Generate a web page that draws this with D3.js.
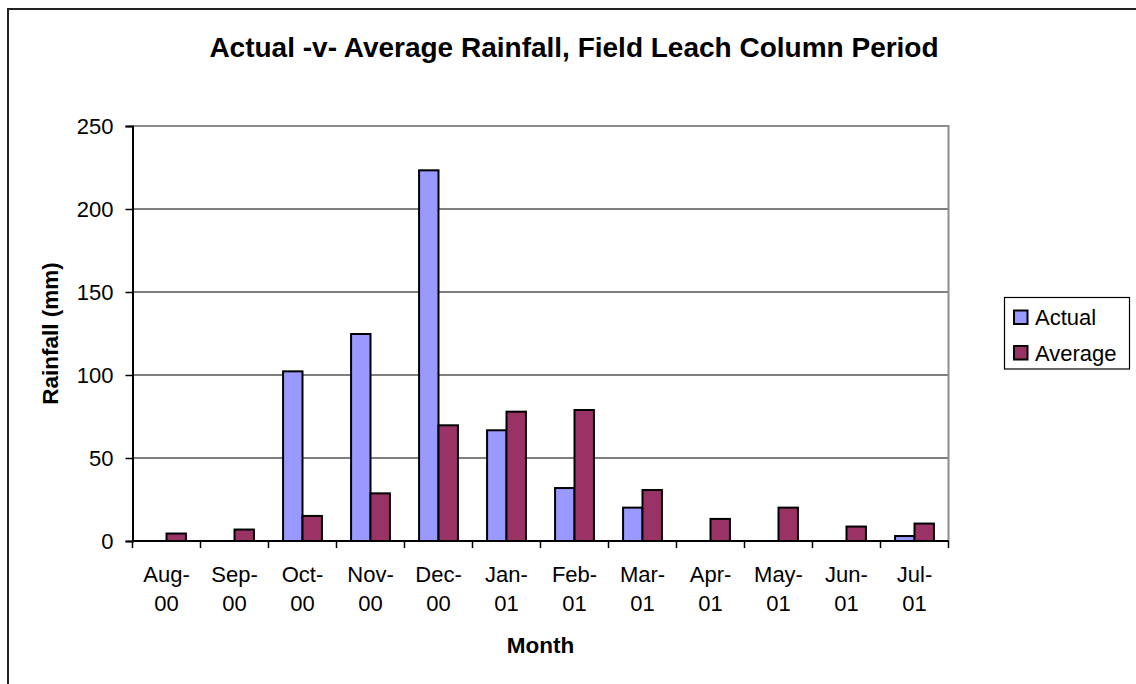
<!DOCTYPE html>
<html>
<head>
<meta charset="utf-8">
<script src="https://cdn.jsdelivr.net/npm/d3@7"></script>
<style>
  body { margin: 0; background: #fff; }
  text { font-family: "Liberation Sans", Arial, sans-serif; }
</style>
</head>
<body>
<div id="canvas"></div>
<script>
// chart values
var months = ["Aug-00", "Sep-00", "Oct-00", "Nov-00", "Dec-00", "Jan-01",
              "Feb-01", "Mar-01", "Apr-01", "May-01", "Jun-01", "Jul-01"];
var actual  = [0, 0, 102.2, 124.7, 223.3, 66.7, 31.9, 20.1, 0, 0, 0, 3.0];
var average = [4.5, 6.9, 15.1, 28.7, 69.7, 77.9, 78.9, 30.7, 13.3, 20.1, 8.7, 10.5];
var seriesNames = ["Actual", "Average"];
var yTicks = [0, 50, 100, 150, 200, 250];

var colors = {Actual: "#9999ff", Average: "#993366"};

var W = 1136, H = 684;
var plot = {left: 132.5, top: 126, right: 948.5, bottom: 541};

svg = d3.select("#canvas").append("svg")
  .attr("width", W).attr("height", H);

// outer chart border (runs off right / bottom edge)
svg.append("rect")
  .attr("x", 8).attr("y", 9)
  .attr("width", 1200).attr("height", 800)
  .attr("fill", "none").attr("stroke", "#222").attr("stroke-width", 2);

var x = d3.scaleBand().domain(months).range([plot.left, plot.right]);
var inner = d3.scaleBand().domain(seriesNames)
  .range([0, x.bandwidth()]).paddingInner(0).paddingOuter(0.75);
var y = d3.scaleLinear().domain([0, 250]).range([plot.bottom, plot.top]);

// gridlines
svg.append("g").selectAll("line").data(yTicks.slice(1, -1)).enter().append("line")
  .attr("x1", plot.left).attr("x2", plot.right)
  .attr("y1", function(d){ return y(d); }).attr("y2", function(d){ return y(d); })
  .attr("stroke", "#555").attr("stroke-width", 1.5);

// plot frame top/right
svg.append("path")
  .attr("d", "M" + plot.left + "," + plot.top + "H" + plot.right + "V" + plot.bottom)
  .attr("fill", "none").attr("stroke", "#8c8c8c").attr("stroke-width", 2);

// bars
var rows = months.map(function(m, i){
  return [{m: m, s: "Actual", v: actual[i]}, {m: m, s: "Average", v: average[i]}];
});
var grp = svg.append("g").selectAll("g").data(rows).enter().append("g")
  .attr("transform", function(d){ return "translate(" + x(d[0].m) + ",0)"; });
grp.selectAll("rect").data(function(d){ return d.filter(function(e){ return e.v > 0; }); })
  .enter().append("rect")
  .attr("x", function(d){ return inner(d.s); })
  .attr("width", inner.bandwidth())
  .attr("y", function(d){ return y(d.v); })
  .attr("height", function(d){ return y(0) - y(d.v); })
  .attr("fill", function(d){ return colors[d.s]; })
  .attr("stroke", "#000").attr("stroke-width", 2);

// y axis
var yAxis = d3.axisLeft(y).tickValues(yTicks).tickSize(7).tickPadding(12);
var ya = svg.append("g").attr("transform", "translate(" + plot.left + ",0)").call(yAxis);
ya.select(".domain").attr("stroke", "#000").attr("stroke-width", 2);
ya.selectAll(".tick line").attr("stroke", "#000").attr("stroke-width", 1.5);
ya.selectAll(".tick text").attr("font-size", 22).attr("fill", "#000")
  .attr("font-family", "Liberation Sans, Arial, sans-serif");

// x axis
var tickPos = months.map(function(m){ return x(m); }).concat([plot.right]);
var xa = svg.append("g");
xa.append("line").attr("x1", plot.left).attr("x2", plot.right)
  .attr("y1", plot.bottom).attr("y2", plot.bottom)
  .attr("stroke", "#000").attr("stroke-width", 2);
xa.selectAll("line.tk").data(tickPos).enter().append("line").attr("class", "tk")
  .attr("x1", function(d){ return d; }).attr("x2", function(d){ return d; })
  .attr("y1", plot.bottom).attr("y2", plot.bottom + 7)
  .attr("stroke", "#000").attr("stroke-width", 1.5);
var lab = xa.selectAll("text").data(months).enter().append("text")
  .attr("text-anchor", "middle").attr("font-size", 22).attr("fill", "#000")
  .attr("transform", function(d){ return "translate(" + (x(d) + x.bandwidth() / 2) + ",0)"; });
lab.append("tspan").attr("x", 0).attr("y", 582)
  .text(function(d){ return d.split("-")[0] + "-"; });
lab.append("tspan").attr("x", 0).attr("y", 611)
  .text(function(d){ return d.split("-")[1]; });

// titles
svg.append("text").attr("x", 574).attr("y", 57).attr("text-anchor", "middle")
  .attr("font-size", 28).attr("font-weight", "bold")
  .text("Actual -v- Average Rainfall, Field Leach Column Period");
svg.append("text").attr("x", 540.5).attr("y", 653).attr("text-anchor", "middle")
  .attr("font-size", 22.5).attr("font-weight", "bold").text("Month");
svg.append("text")
  .attr("transform", "translate(58," + ((plot.top + plot.bottom) / 2) + ") rotate(-90)")
  .attr("text-anchor", "middle").attr("font-size", 22.5).attr("font-weight", "bold")
  .text("Rainfall (mm)");

// legend
var lg = svg.append("g");
lg.append("rect").attr("x", 1004.5).attr("y", 297.5).attr("width", 125).attr("height", 71.5)
  .attr("fill", "#fff").attr("stroke", "#000").attr("stroke-width", 1.2);
var li = lg.selectAll("g").data(seriesNames).enter().append("g")
  .attr("transform", function(d, i){ return "translate(0," + (i * 35.5) + ")"; });
li.append("rect").attr("x", 1014).attr("y", 310.5).attr("width", 13.5).attr("height", 13.5)
  .attr("fill", function(d){ return colors[d]; })
  .attr("stroke", "#000").attr("stroke-width", 2);
li.append("text").attr("x", 1035).attr("y", 325).attr("font-size", 22)
  .text(function(d){ return d; });
</script>
</body>
</html>
